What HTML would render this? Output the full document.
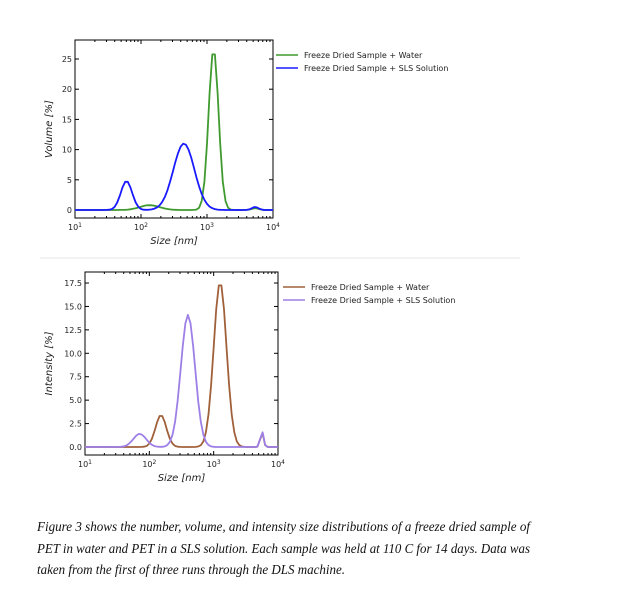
<!DOCTYPE html><html><head><style>body{margin:0;background:#fff}svg{display:block}</style></head><body>
<svg id="s" width="621" height="601" xmlns="http://www.w3.org/2000/svg" font-family="'DejaVu Sans', sans-serif">
<rect width="621" height="601" fill="#fff"/>
<line x1="40" y1="258" x2="520" y2="258" stroke="#e6e6e6" stroke-width="1"/>
<g font-family="'Liberation Serif',serif" font-style="italic" font-size="14" fill="#111">
<text x="37" y="531" textLength="493" lengthAdjust="spacingAndGlyphs">Figure 3 shows the number, volume, and intensity size distributions of a freeze dried sample of</text>
<text x="37" y="553" textLength="493" lengthAdjust="spacingAndGlyphs">PET in water and PET in a SLS solution. Each sample was held at 110 C for 14 days. Data was</text>
<text x="37" y="574" textLength="308" lengthAdjust="spacingAndGlyphs">taken from the first of three runs through the DLS machine.</text>
</g>
</svg>
<script>
var s=document.getElementById('s'),NS='http://www.w3.org/2000/svg';
function el(t,a,txt){var e=document.createElementNS(NS,t);for(var k in a)e.setAttribute(k,a[k]);if(txt!=null)e.textContent=txt;s.appendChild(e);return e;}
function chart(c){
 var X=function(l){return c.x0+(l-1)*(c.x1-c.x0)/3},Y=function(v){return c.yz-v*c.py};
 el('rect',{x:c.x0,y:c.y0,width:c.x1-c.x0,height:c.y1-c.y0,fill:'none',stroke:'#000','stroke-width':1});
 // x ticks
 for(var d=1;d<=4;d++){var xx=X(d);
  el('line',{x1:xx,y1:c.y1,x2:xx,y2:c.y1-4,stroke:'#000'});el('line',{x1:xx,y1:c.y0,x2:xx,y2:c.y0+4,stroke:'#000'});
  var t=el('text',{x:xx,y:c.y1+12,'font-size':8,'text-anchor':'middle',fill:'#222'},'10');
  var sp=document.createElementNS(NS,'tspan');sp.setAttribute('dy','-3');sp.setAttribute('font-size','6');sp.textContent=d;t.appendChild(sp);
  if(d<4)for(var m=2;m<10;m++){var xm=X(d+Math.log10(m));el('line',{x1:xm,y1:c.y1,x2:xm,y2:c.y1-2,stroke:'#000'});el('line',{x1:xm,y1:c.y0,x2:xm,y2:c.y0+2,stroke:'#000'});}
 }
 c.yt.forEach(function(v){var yy=Y(v);el('line',{x1:c.x0,y1:yy,x2:c.x0+4,y2:yy,stroke:'#000'});el('line',{x1:c.x1,y1:yy,x2:c.x1-4,y2:yy,stroke:'#000'});
  el('text',{x:c.x0-3,y:yy+3,'font-size':8,'text-anchor':'end',fill:'#222'},c.fmt(v));});
 el('text',{x:(c.x0+c.x1)/2,y:c.y1+26,'font-size':10,'text-anchor':'middle','font-style':'italic',fill:'#222'},'Size [nm]');
 var t=el('text',{x:0,y:0,'font-size':10,'text-anchor':'middle','font-style':'italic',fill:'#222',transform:'translate('+c.yl+','+((c.y0+c.y1)/2)+') rotate(-90)'},c.ylab);
 c.series.forEach(function(sr,i){var p=[];for(var l=1;l<=4.0001;l+=0.04){var v=0;sr.g.forEach(function(g){v+=g[0]*Math.exp(-Math.pow((l-g[1])/g[2],2)/2)});p.push(X(l).toFixed(1)+','+Y(v).toFixed(1));}
  el('polyline',{points:p.join(' '),fill:'none',stroke:sr.c,'stroke-width':1.8,'stroke-linejoin':'round'});
  var ly=c.ly+i*13;el('line',{x1:c.lx,y1:ly,x2:c.lx+22,y2:ly,stroke:sr.c,'stroke-width':1.5});
  el('text',{x:c.lx+28,y:ly+3,'font-size':8,fill:'#222'},sr.n);});
}
chart({x0:75,x1:273,y0:40,y1:218,yz:210,py:6.04,yt:[0,5,10,15,20,25],fmt:function(v){return v},yl:52,ylab:'Volume [%]',lx:276,ly:55,
 series:[{c:'#3f9a2f',n:'Freeze Dried Sample + Water',g:[[26.7,3.1,0.075],[0.8,2.13,0.15],[0.3,3.73,0.05]]},
 {c:'#1a1aff',n:'Freeze Dried Sample + SLS Solution',g:[[4.8,1.78,0.085],[11,2.65,0.16],[0.5,3.73,0.05]]}]});
chart({x0:85,x1:278,y0:272,y1:455,yz:447,py:9.37,yt:[0,2.5,5,7.5,10,12.5,15,17.5],fmt:function(v){return v.toFixed(1)},yl:52,ylab:'Intensity [%]',lx:283,ly:287,
 series:[{c:'#a0603a',n:'Freeze Dried Sample + Water',g:[[3.4,2.18,0.085],[17.6,3.1,0.1],[1.6,3.75,0.025]]},
 {c:'#9d7fe6',n:'Freeze Dried Sample + SLS Solution',g:[[1.4,1.85,0.1],[14.1,2.6,0.11],[1.7,3.75,0.025]]}]});
</script>
</body></html>
